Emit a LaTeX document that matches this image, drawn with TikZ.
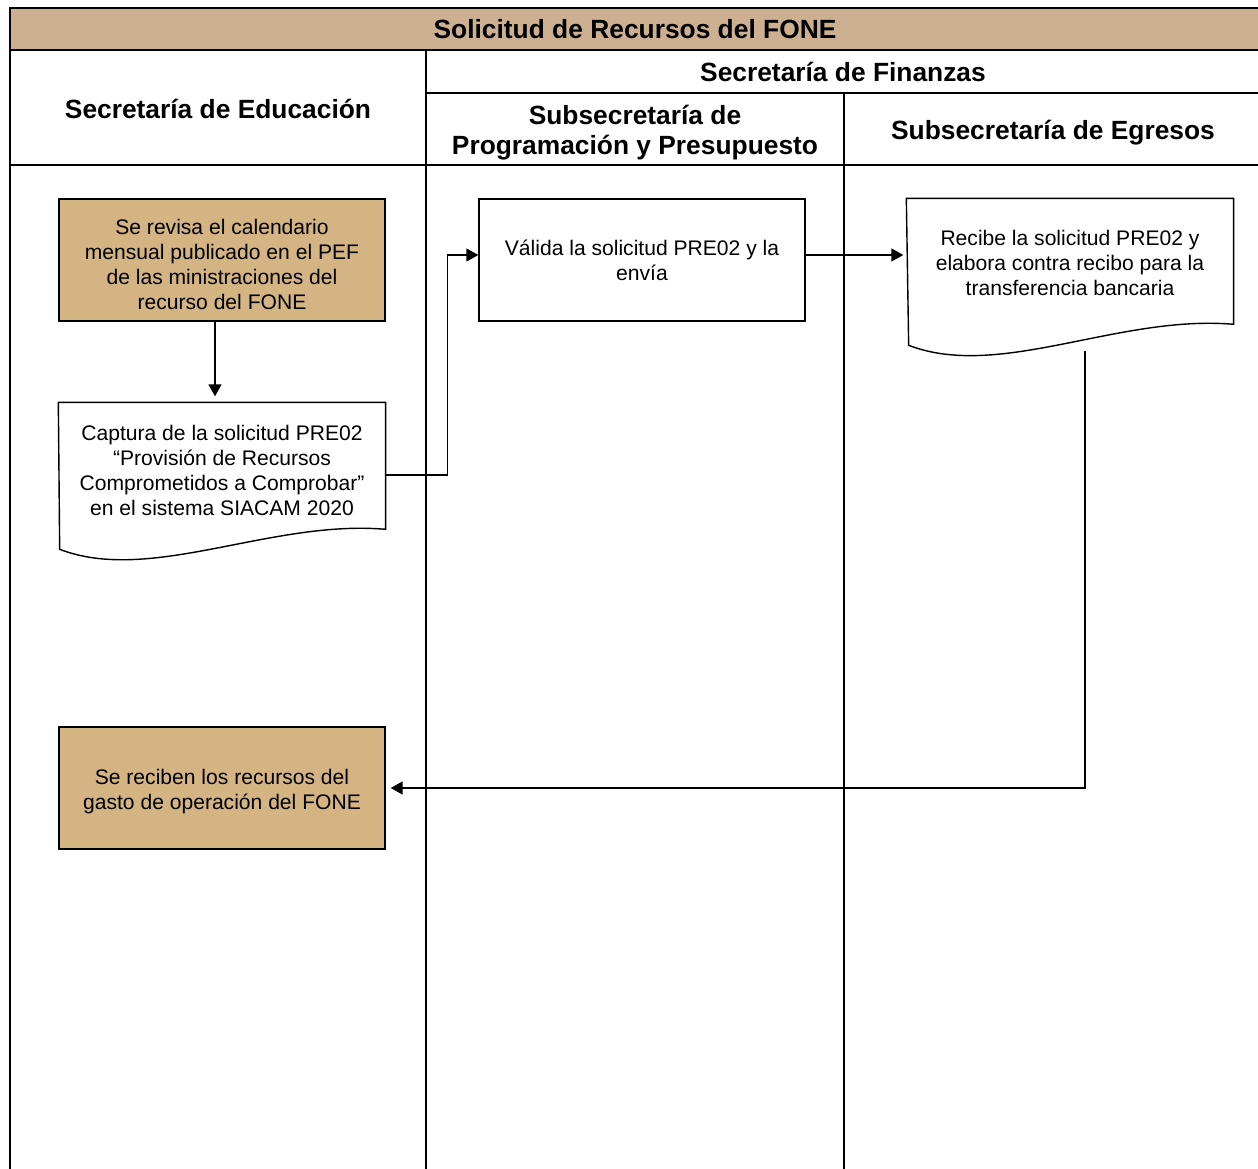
\documentclass[tikz,border=0pt]{standalone}
\usepackage{fontspec}
\setmainfont{Liberation Sans}
\usetikzlibrary{arrows.meta,positioning}
\definecolor{titlebg}{RGB}{204,176,145}
\definecolor{taskbg}{RGB}{212,180,131}

\begin{document}
\begin{tikzpicture}[x=0.02cm,y=-0.02cm,
    grid/.style={line width=1.1pt},
    lane/.style={line width=0.8pt},
    head/.style={font=\fontsize{15}{17}\selectfont\bfseries,align=center},
    task/.style={draw,line width=0.8pt,minimum width=6.52cm,minimum height=2.44cm,
      inner sep=0pt,align=center,font=\fontsize{12}{14.2}\selectfont},
    doc/.style={task,draw=none},
    flow/.style={line width=0.8pt,-{Triangle[length=0.24cm,width=0.26cm]}}]

      \useasboundingbox (0,0) rectangle (1258,1169);

      % table
      \fill[titlebg] (10,8) rectangle (1258,50);
      \draw[grid] (1258,8) -- (10,8) -- (10,1169);
      \draw[grid] (10,50) -- (1258,50);
      \draw[grid] (426,50) -- (426,165);
      \draw[grid] (426,93) -- (1258,93);
      \draw[grid] (844,93) -- (844,165);
      \draw[grid] (10,165) -- (1258,165);
      \draw[lane] (426,165) -- (426,1169);
      \draw[lane] (844,165) -- (844,1169);

      \node[head] (titulo) at (635,29) {Solicitud de Recursos del FONE};
      \node[head] (finanzas) at (843,72) {Secretaría de Finanzas};
      \node[head] (educacion) at (218,109) {Secretaría de Educación};
      \node[head] (programacion) at (635,133) {Subsecretaría de\\Programación y Presupuesto};
      \node[head] (egresos) at (1053,133) {Subsecretaría de Egresos};

      % tasks
      \node[task,fill=taskbg] (revisa) at (222,260) {\\[0pt]Se revisa el calendario\\mensual publicado en el PEF\\de las ministraciones del\\recurso del FONE};
      \node[doc,minimum height=2.88cm] (captura) at (222,475) {Captura de la solicitud PRE02\\“Provisión de Recursos\\Comprometidos a Comprobar”\\en el sistema SIACAM 2020\\[-8.6pt]\mbox{}};
      \draw[lane] (captura.north west) -- (captura.north east) -- ++(0,127)
        .. controls +(-115,-10) and +(91,35) .. ++(-326,20) -- cycle;
      \node[task] (valida) at (642,260) {Válida la solicitud PRE02 y la\\envía};
      \node[doc,minimum height=2.24cm] (recibe) at (1070,255) {\\[3.6pt]Recibe la solicitud PRE02 y\\elabora contra recibo para la\\transferencia bancaria};
      \draw[lane] (recibe.north west) -- (recibe.north east) -- ++(0,126)
        .. controls +(-115,-10) and +(91,35) .. ++(-325,21) -- cycle;
      \node[task,fill=taskbg] (reciben) at (222,788) {\\[-2pt]Se reciben los recursos del\\gasto de operación del FONE};
      \coordinate (salida) at (1085,351);

      % connectors
      \draw[flow,shorten >=0.12cm] ([xshift=-0.14cm]revisa.south) -- ([xshift=-0.14cm]captura.north);
      \draw[flow] (captura.east) -- ++(62,0) |- ([yshift=0.1cm]valida.west);
      \draw[flow,shorten >=0.06cm] (valida.east |- recibe.west) -- (recibe.west);
      \draw[flow,shorten >=0.1cm] (salida) |- (reciben.east);

    \end{tikzpicture}
\end{document}
